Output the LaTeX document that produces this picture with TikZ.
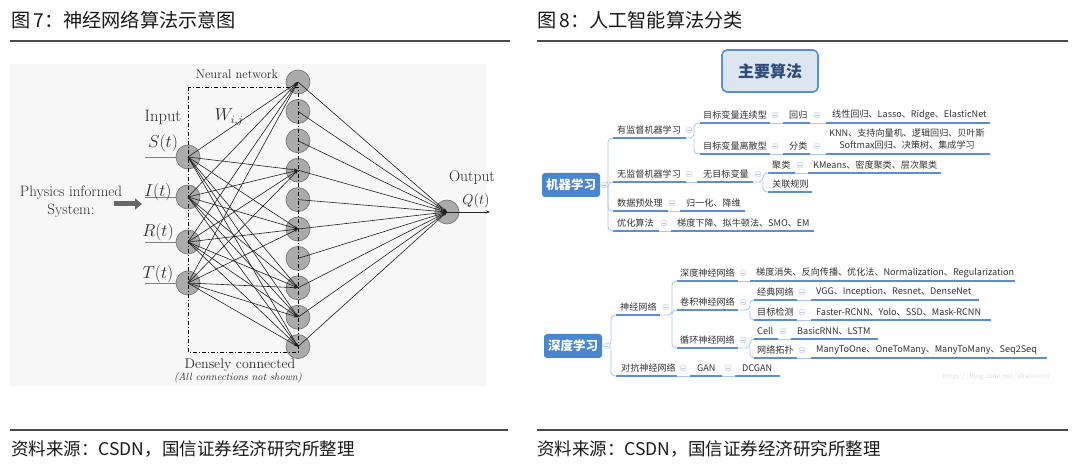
\documentclass[tikz,border=0pt]{standalone}
\usepackage{fontspec}
\newfontfamily\cjk{Noto Sans CJK SC}
\usetikzlibrary{arrows.meta}
\definecolor{ulc}{HTML}{5B8ED6}
\definecolor{cnc}{HTML}{AFC7EA}
\definecolor{mmt}{HTML}{333333}
\definecolor{icc}{HTML}{C3CEDF}
\definecolor{nnfill}{HTML}{ABABAB}
\definecolor{nndraw}{HTML}{6E6E6E}
\definecolor{bgc}{HTML}{F7F7F7}
\definecolor{boxfill}{HTML}{DCE6F2}
\definecolor{rootfill}{HTML}{4A86D0}
\definecolor{maintext}{HTML}{2C4C7A}
\definecolor{rulec}{HTML}{4A4A4A}
\definecolor{nntext}{HTML}{2A2A2A}

\newcommand\mmnode[6]{%
  \node[mmtext] (#1) at (#2,#3) {#6};
  \coordinate (#1-s) at (#4,#3+8);
  \coordinate (#1-e) at (#5,#3+8);
  \draw[ulline] (#1-s) -- (#1-e);}
\newcommand\mmicon[3]{\node[mmicon] (#1) at (#2,#3) {};}

\begin{document}
\begin{tikzpicture}[x=1pt,y=-1pt,
  mmtext/.style={anchor=west, inner sep=0pt, font=\cjk\fontsize{9.1}{10}\selectfont, text=mmt},
  ulline/.style={ulc, line width=1.3pt},
  conn/.style={cnc, line width=0.9pt, rounded corners=4pt},
  mmicon/.style={circle, draw=icc, fill=white, minimum size=6pt, inner sep=0pt, line width=0.5pt,
    path picture={\draw[icc, line width=0.6pt] ([xshift=-1.6pt]path picture bounding box.center) -- ([xshift=1.6pt]path picture bounding box.center);}},
  rootbox/.style={fill=rootfill, rounded corners=3pt, minimum width=58pt, minimum height=24pt, inner sep=0pt,
    text=white, font=\cjk\bfseries\fontsize{12.5}{14}\selectfont},
  nnc/.style={circle, minimum size=24pt, inner sep=0pt, fill=nnfill, draw=nndraw, line width=0.6pt},
  edge/.style={black!88, line width=0.6pt, -{Stealth[length=4pt,width=2.6pt]}},
  nnlab/.style={text=nntext, inner sep=0pt},
  rulel/.style={rulec, line width=1.1pt},
  title/.style={anchor=west, inner sep=0pt, text=black!90, font=\cjk\fontsize{19.2}{22}\selectfont},
  foot/.style={anchor=west, inner sep=0pt, text=black!90, font=\cjk\fontsize{17.5}{19}\selectfont}
]
\useasboundingbox (0,0) rectangle (1080,470);
\fill[white] (0,0) rectangle (1080,470);

% ---------- titles, rules, footers ----------
\node[title] (t1) at (11,20) {图\hspace{3pt}7：神经网络算法示意图};
\node[title] (t2) at (537,20) {图\hspace{3pt}8：人工智能算法分类};
\draw[rulel] (10,41) -- (510,41);
\draw[rulel] (537,41) -- (1068,41);
\draw[rulel] (10,430) -- (508,430);
\draw[rulel] (537,430) -- (1068,430);
\node[foot] (f1) at (11,449) {资料来源：CSDN，国信证券经济研究所整理};
\node[foot] (f2) at (537,449) {资料来源：CSDN，国信证券经济研究所整理};

% ---------- neural network ----------
\fill[bgc] (10,64) rectangle (486,386);
\foreach \n/\y in {1/157,2/197,3/242,4/283}{
  \coordinate (l\n) at (145,\y);
  \draw[gray, line width=0.6pt] (l\n) -- (188,\y);
  \node[nnc] (in\n) at (188,\y) {};
}
\foreach \j in {1,...,10}{
  \node[nnc] (h\j) at (298,{82+(\j-1)*29.4}) {};
}
\node[nnc] (out) at (447,212) {};
\draw[dash pattern=on 4pt off 2pt on 1pt off 2pt, line width=0.9pt] (188,87) rectangle (298,352);

\foreach \i in {1,...,4}{
  \foreach \j in {1,4,6,8,9,10}{
    \draw[edge] (in\i.center) -- (h\j.center);
  }
}
\foreach \j in {1,...,10}{
  \draw[edge] (h\j.center) -- (out.center);
}
\coordinate (qend) at (490,212);
\draw[black!85, line width=0.6pt, -{Stealth[length=4pt,width=3pt]}] (out.center) -- (qend);

\coordinate (pa) at (114,204);
\coordinate (pb) at (142,204);
\draw[line width=5pt, color=black!60, -{Triangle[length=7pt,width=11pt]}] (pa) -- (pb);

\node[nnlab, align=center, font=\fontsize{15}{18}\selectfont] (phys) at (71,202) {Physics informed\\System:};
\node[nnlab, font=\fontsize{12.5}{14}\selectfont] (nnt) at (237,74) {Neural network};
\node[nnlab, font=\fontsize{16.5}{18}\selectfont] (inp) at (163,117) {Input};
\node[nnlab, font=\fontsize{16}{18}\selectfont] (wij) at (229,117) {$W_{i,j}$};
\node[nnlab, font=\fontsize{16}{18}\selectfont] (sl) at (163,143) {$S(t)$};
\node[nnlab, font=\fontsize{16}{18}\selectfont] (il) at (158,192) {$I(t)$};
\node[nnlab, font=\fontsize{16}{18}\selectfont] (rl) at (158,232) {$R(t)$};
\node[nnlab, font=\fontsize{16}{18}\selectfont] (tl) at (158,274) {$T(t)$};
\node[nnlab, font=\fontsize{15.5}{18}\selectfont] (outl) at (472,178) {Output};
\node[nnlab, font=\fontsize{15.5}{18}\selectfont] (ql) at (476,201) {$Q(t)$};
\node[nnlab, font=\fontsize{14}{16}\selectfont] (dc) at (240,365) {Densely connected};
\node[nnlab, font=\itshape\fontsize{10.4}{12}\selectfont] (acn) at (238,378) {(All connections not shown)};

% ---------- mind map ----------
\node[draw=ulc, line width=1.6pt, fill=boxfill, rounded corners=5pt, minimum width=96pt, minimum height=42pt,
  text=maintext, font=\cjk\bfseries\fontsize{16}{18}\selectfont] (main) at (770,71) {主要算法};

% tree 1
\node[rootbox] (R1) at (571,185) {机器学习};
\mmnode{A}{617}{130}{613}{686}{有监督机器学习}
\mmnode{A1}{703}{115}{700}{770}{目标变量连续型}
\mmnode{A1a}{789}{115}{783}{810}{回归}
\mmnode{A1b}{832}{115}{826}{990}{线性回归、Lasso、Ridge、ElasticNet}
\mmnode{A2}{703}{146}{700}{770}{目标变量离散型}
\mmnode{A2a}{789}{146}{783}{810}{分类}
\node[mmtext, anchor=center, align=center, font=\cjk\fontsize{9.1}{12}\selectfont] (A2b) at (907,139)
  {KNN、支持向量机、逻辑回归、贝叶斯\\Softmax回归、决策树、集成学习};
\coordinate (A2b-s) at (826,154);
\coordinate (A2b-e) at (990,154);
\draw[ulline] (A2b-s) -- (A2b-e);
\mmnode{B}{617}{174}{613}{686}{无监督机器学习}
\mmnode{B1}{703}{174}{697}{753}{无目标变量}
\mmnode{B1a}{772}{165}{768}{795}{聚类}
\mmnode{B1a1}{813}{165}{808}{941}{KMeans、密度聚类、层次聚类}
\mmnode{B1b}{772}{184}{768}{812}{关联规则}
\mmnode{C}{617}{203}{613}{668}{数据预处理}
\mmnode{C1}{686}{203}{680}{745}{归一化、降维}
\mmnode{D}{617}{223}{613}{659}{优化算法}
\mmnode{D1}{677}{223}{671}{814}{梯度下降、拟牛顿法、SMO、EM}

\draw[conn] (R1.east) -- (608,185) |- (A-s);
\draw[conn] (608,185) |- (B-s);
\draw[conn] (608,185) |- (C-s);
\draw[conn] (608,185) |- (D-s);
\draw[conn] (A-e) -- (694,138) |- (A1-s);
\draw[conn] (694,138) |- (A2-s);
\draw[conn] (A1-e) -- (A1a-s);
\draw[conn] (A1a-e) -- (A1b-s);
\draw[conn] (A2-e) -- (A2a-s);
\draw[conn] (A2a-e) -- (A2b-s);
\draw[conn] (B-e) -- (B1-s);
\draw[conn] (B1-e) -- (763,182) |- (B1a-s);
\draw[conn] (763,182) |- (B1b-s);
\draw[conn] (B1a-e) -- (B1a1-s);
\draw[conn] (C-e) -- (C1-s);
\draw[conn] (D-e) -- (D1-s);

\mmicon{R1i}{604}{185}
\mmicon{Ai}{689}{130}
\mmicon{A1i}{775}{115}
\mmicon{A1ai}{817}{115}
\mmicon{A2i}{775}{146}
\mmicon{A2ai}{817}{146}
\mmicon{Bi}{689}{174}
\mmicon{B1i}{758}{174}
\mmicon{B1ai}{800}{165}
\mmicon{Ci}{672}{203}
\mmicon{Di}{664}{223}

% tree 2
\node[rootbox] (R2) at (573,346) {深度学习};
\mmnode{E}{620}{307}{616}{660}{神经网络}
\mmnode{E1}{680}{273}{677}{738}{深度神经网络}
\mmnode{E1a}{756}{273}{750}{1015}{梯度消失、反向传播、优化法、Normalization、Regularization}
\mmnode{E2}{680}{302}{677}{738}{卷积神经网络}
\mmnode{E2a}{757}{292}{754}{797}{经典网络}
\mmnode{E2a1}{816}{292}{811}{979}{VGG、Inception、Resnet、DenseNet}
\mmnode{E2b}{757}{312}{754}{797}{目标检测}
\mmnode{E2b1}{816}{312}{811}{991}{Faster-RCNN、Yolo、SSD、Mask-RCNN}
\mmnode{E3}{680}{340}{677}{738}{循环神经网络}
\mmnode{E3a}{757}{331}{754}{778}{Cell}
\mmnode{E3a1}{797}{331}{791}{878}{BasicRNN、LSTM}
\mmnode{E3b}{757}{350}{754}{797}{网络拓扑}
\mmnode{E3b1}{816}{350}{811}{1047}{ManyToOne、OneToMany、ManyToMany、Seq2Seq}
\mmnode{F}{621}{368}{616}{677}{对抗神经网络}
\mmnode{F1}{697}{368}{690}{722}{GAN}
\mmnode{F2}{742}{368}{735}{780}{DCGAN}

\draw[conn] (R2.east) -- (611,346) |- (E-s);
\draw[conn] (611,346) |- (F-s);
\draw[conn] (E-e) -- (672,315) |- (E1-s);
\draw[conn] (672,315) |- (E2-s);
\draw[conn] (672,315) |- (E3-s);
\draw[conn] (E1-e) -- (E1a-s);
\draw[conn] (E2-e) -- (750,310) |- (E2a-s);
\draw[conn] (750,310) |- (E2b-s);
\draw[conn] (E2a-e) -- (E2a1-s);
\draw[conn] (E2b-e) -- (E2b1-s);
\draw[conn] (E3-e) -- (750,348) |- (E3a-s);
\draw[conn] (750,348) |- (E3b-s);
\draw[conn] (E3a-e) -- (E3a1-s);
\draw[conn] (E3b-e) -- (E3b1-s);
\draw[conn] (F-e) -- (F1-s);
\draw[conn] (F1-e) -- (F2-s);

\mmicon{R2i}{607}{346}
\mmicon{Ei}{666}{307}
\mmicon{E1i}{743}{273}
\mmicon{E2i}{743}{302}
\mmicon{E2ai}{802}{292}
\mmicon{E2bi}{802}{312}
\mmicon{E3i}{743}{340}
\mmicon{E3ai}{783}{331}
\mmicon{E3bi}{802}{350}
\mmicon{Fi}{683}{368}
\mmicon{F1i}{728}{368}

\node[inner sep=0pt, text=black!12, font=\fontsize{7.5}{9}\selectfont\sffamily] (wm) at (996,377) {https://blog.csdn.net/shaixinxin};
\end{tikzpicture}
\end{document}
